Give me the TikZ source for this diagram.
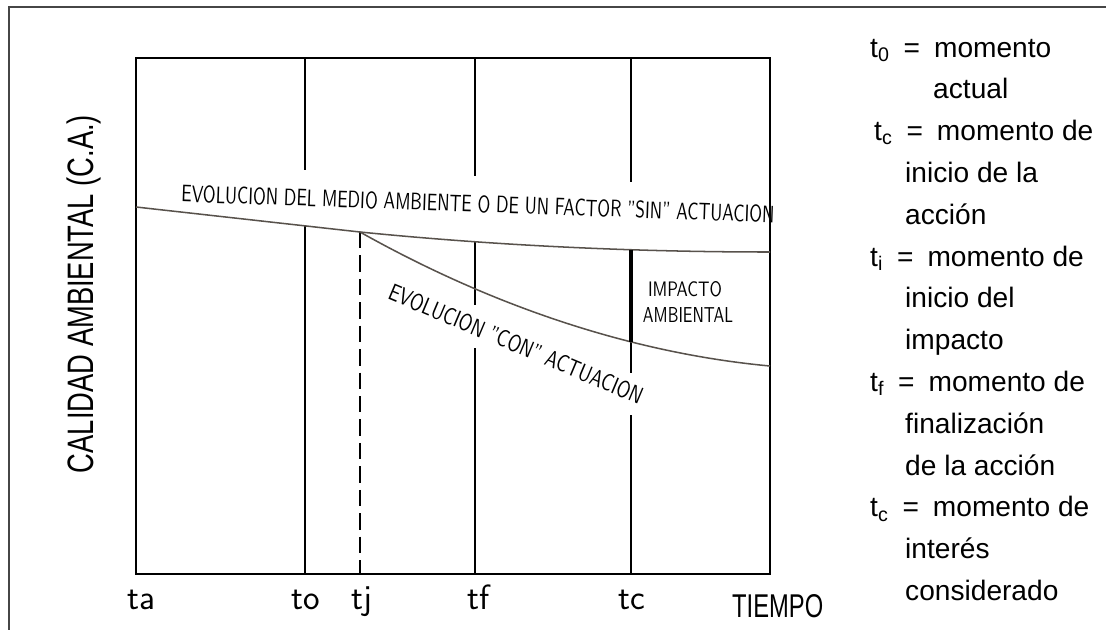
\documentclass[tikz,border=0pt]{standalone}
\usepackage{fontspec}
\newfontfamily\legfont{Liberation Sans}

\definecolor{curvegray}{RGB}{88,82,76}
\definecolor{framegray}{RGB}{70,70,70}

\tikzset{
  axisline/.style={line width=1pt},
  curveline/.style={line width=1.3pt, draw=curvegray},
  cadlbl/.style={font=\sffamily, inner sep=0pt},
  leglbl/.style={font=\legfont\fontsize{24}{28}\selectfont, anchor=base west, inner sep=0pt},
}

\begin{document}
\begin{tikzpicture}[x=0.03cm,y=-0.03cm]
\useasboundingbox (0,0) rectangle (1106,630);
\draw[line width=1.7pt, framegray] (1106,7) -- (9,7) -- (9,630);

% caja del grafico
\draw[axisline] (136,58) rectangle (770,574);
\foreach \x/\y in {305/170, 475/176, 631/182}
  \draw[axisline] (\x,58) -- (\x,\y);
\draw[axisline] (305,226) -- (305,574);
\draw[axisline] (475,242) -- (475,305) (475,348) -- (475,574);
\draw[axisline] (631,342) -- (631,373) (631,415) -- (631,574);
\draw[axisline, dash pattern=on 14pt off 6pt] (360,232) -- (360,574);

% evolucion sin / con actuacion
\draw[curveline] (136,207) -- (360,232) .. controls (500,246) and (640,252) .. (770,252);
\draw[curveline] (360,232) .. controls (490,305) and (630,353) .. (770,366);
\draw[line width=3pt] (631,249.7) -- (631,342);

\node[cadlbl, rotate=-2] (sintxt) at (478,204) {\resizebox{17.8cm}{0.51cm}{EVOLUCION DEL MEDIO AMBIENTE O DE UN FACTOR "SIN" ACTUACION}};
\node[cadlbl, rotate=-22.8] (contxt) at (516,344) {\resizebox{8.2cm}{0.51cm}{EVOLUCION "CON" ACTUACION}};
\node[cadlbl] (imp1) at (685,289) {\resizebox{2.22cm}{0.45cm}{IMPACTO}};
\node[cadlbl] (imp2) at (688,315) {\resizebox{2.7cm}{0.45cm}{AMBIENTAL}};

% eje de tiempos
\foreach \x/\lab in {141/a, 306/o, 362/j, 479/f, 632/c}
  \node[cadlbl, font=\sffamily\fontsize{30}{34}\selectfont, anchor=base] (lbl-\lab) at (\x,609) {t\lab};
\node[anchor=base west, inner sep=0pt] (tiempo) at (732,617) {\legfont\resizebox{2.73cm}{0.69cm}{TIEMPO}};
\node[anchor=base, rotate=90, inner sep=0pt] (ylbl) at (93,294) {\legfont\resizebox{10.74cm}{0.8cm}{CALIDAD AMBIENTAL (C.A.)}};

% leyenda
\foreach \xx/\txt [count=\i] in {870/t\textsubscript{0}\enspace=\enspace momento, 933/actual,
    874/t\textsubscript{c}\enspace=\enspace momento de, 905/inicio de la, 905/acción,
    870/t\textsubscript{i}\enspace=\enspace momento de, 905/inicio del, 905/impacto,
    870/t\textsubscript{f}\enspace=\enspace momento de, 905/finalización, 905/de la acción,
    870/t\textsubscript{c}\enspace=\enspace momento de, 905/interés, 905/considerado}
  \node[leglbl] (leg-\i) at (\xx,{57+(\i-1)*41.8}) {\txt};
\end{tikzpicture}
\end{document}
